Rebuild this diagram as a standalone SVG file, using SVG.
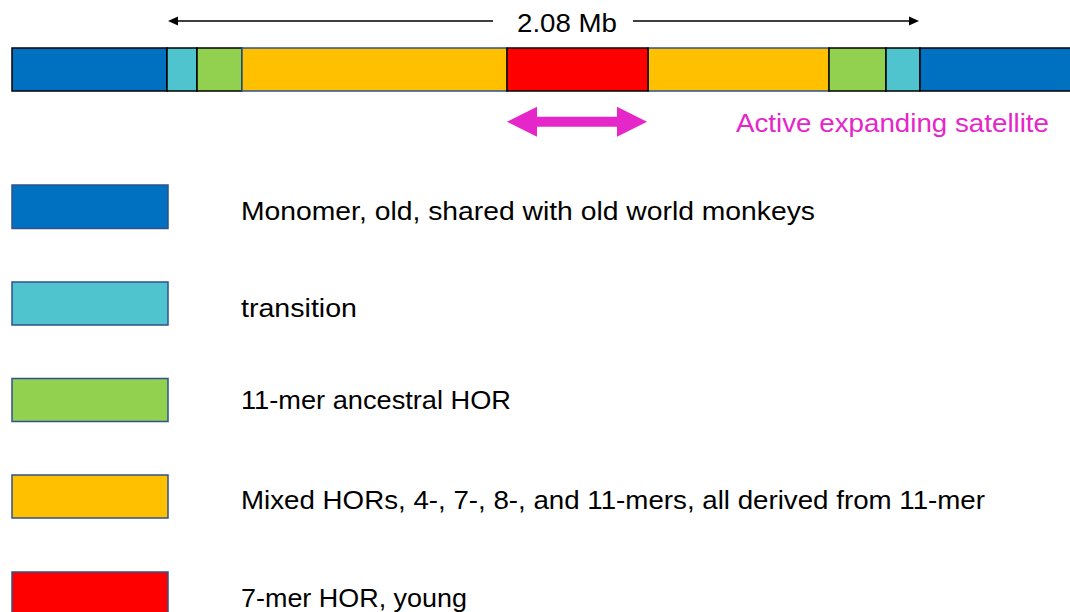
<svg xmlns="http://www.w3.org/2000/svg" width="1070" height="612" viewBox="0 0 1070 612">
<style>
.t{font-family:"Liberation Sans",Arial,sans-serif;font-size:26px;fill:#000}
.m{fill:#E526C9}
.seg{stroke:#000;stroke-width:1.5}
.segb{stroke:#2F528F;stroke-width:1.5}
.leg{stroke:#2F528F;stroke-width:1.5}
.blue{fill:#0070C0}.cyan{fill:#4FC4CF}.green{fill:#92D050}.yellow{fill:#FFC000}.red{fill:#FF0000}
</style>
<rect width="1070" height="612" fill="#fff"/>
<g id="scale">
<line x1="176" y1="21" x2="493" y2="21" stroke="#000" stroke-width="1.3"/>
<line x1="633" y1="21" x2="911" y2="21" stroke="#000" stroke-width="1.3"/>
<polygon points="168,21 178,16.5 178,25.5" fill="#000"/>
<polygon points="919,21 909,16.5 909,25.5" fill="#000"/>
<text class="t" x="517" y="31.5" textLength="100" lengthAdjust="spacingAndGlyphs">2.08 Mb</text>
</g>
<g id="bar">
<rect class="seg blue" x="12" y="48" width="155" height="43"/>
<rect class="seg cyan" x="167" y="48" width="30" height="43"/>
<rect class="seg green" x="197" y="48" width="45" height="43"/>
<rect class="segb yellow" x="242" y="48" width="265" height="43"/>
<rect class="segb yellow" x="648" y="48" width="181" height="43"/>
<rect class="seg red" x="507" y="48" width="141" height="43"/>
<rect class="seg green" x="829" y="48" width="57" height="43"/>
<rect class="seg cyan" x="886" y="48" width="34" height="43"/>
<rect class="seg blue" x="920" y="48" width="160" height="43"/>
</g>
<g id="active">
<polygon class="m" points="507,121.7 537,106.7 537,116.7 617,116.7 617,106.7 647,121.7 617,136.7 617,126.7 537,126.7 537,136.7"/>
<text class="t m" x="736" y="132" textLength="313" lengthAdjust="spacingAndGlyphs">Active expanding satellite</text>
</g>
<g id="legend-monomer">
<rect class="leg blue" x="12" y="185" width="156" height="43.5"/>
<text class="t" x="241" y="220" textLength="574" lengthAdjust="spacingAndGlyphs">Monomer, old, shared with old world monkeys</text>
</g>
<g id="legend-transition">
<rect class="leg cyan" x="12" y="282" width="156" height="43"/>
<text class="t" x="241" y="316.5" textLength="116" lengthAdjust="spacingAndGlyphs">transition</text>
</g>
<g id="legend-11mer">
<rect class="leg green" x="12" y="378.5" width="156" height="43"/>
<text class="t" x="241" y="409" textLength="270" lengthAdjust="spacingAndGlyphs">11-mer ancestral HOR</text>
</g>
<g id="legend-mixed">
<rect class="leg yellow" x="12" y="475" width="156" height="43"/>
<text class="t" x="241" y="509" textLength="744" lengthAdjust="spacingAndGlyphs">Mixed HORs, 4-, 7-, 8-, and 11-mers, all derived from 11-mer</text>
</g>
<g id="legend-7mer">
<rect class="leg red" x="12" y="572" width="156" height="43"/>
<text class="t" x="241" y="607" textLength="226" lengthAdjust="spacingAndGlyphs">7-mer HOR, young</text>
</g>
</svg>
